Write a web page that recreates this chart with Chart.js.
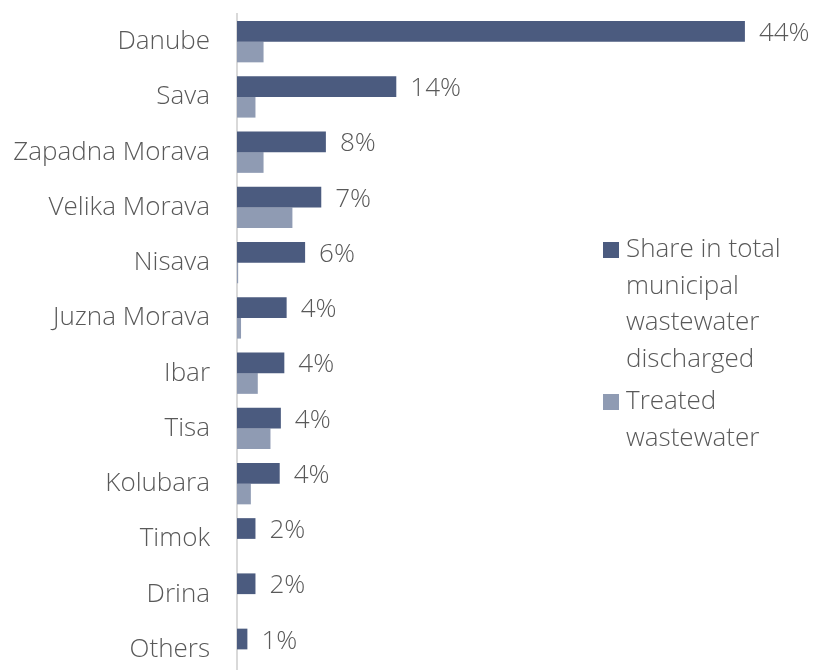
<!DOCTYPE html>
<html>
<head>
<meta charset="utf-8">
<script src="https://cdn.jsdelivr.net/npm/chart.js@4.4.0/dist/chart.umd.min.js"></script>
<style>
  html, body { margin: 0; padding: 0; background: #fff; overflow: hidden; }
  #wrap { position: relative; width: 813px; height: 677px; }
  #legend {
    position: absolute; left: 603px; top: 229px; width: 205px;
    font-family: 'Open Sans', sans-serif; font-weight: 300; font-size: 26px;
    line-height: 36.5px; color: #595959;
  }
  .item { position: relative; padding-left: 23px; margin-bottom: 6px; white-space: normal; }
  .box { position: absolute; left: 0; top: 13px; width: 16px; height: 16px; }
</style>
</head>
<body>
<div id="wrap">
  <canvas id="chart"></canvas>
  <div id="legend"></div>
</div>
<script>
// --- Data ---
const rivers = ['Danube', 'Sava', 'Zapadna Morava', 'Velika Morava', 'Nisava', 'Juzna Morava',
                'Ibar', 'Tisa', 'Kolubara', 'Timok', 'Drina', 'Others'];
const shareDischarged = [44, 13.8, 7.7, 7.3, 5.9, 4.3, 4.1, 3.8, 3.7, 1.6, 1.6, 0.9];
const shareTreated = [2.3, 1.6, 2.3, 4.8, 0.1, 0.35, 1.8, 2.9, 1.2, 0, 0, 0];
const seriesNames = ['Share in total municipal wastewater discharged', 'Treated wastewater'];
const seriesColors = ['#4b5b7f', '#8f9bb3'];

const textColor = '#595959';
const fontFamily = "'Open Sans', sans-serif";

// percent labels to the right of the dark bars
const valueLabels = {
    id: 'valueLabels',
    afterDatasetsDraw(chart) {
        const ctx = chart.ctx;
        const meta = chart.getDatasetMeta(0);
        ctx.save();
        ctx.font = '300 26px ' + fontFamily;
        ctx.fillStyle = textColor;
        ctx.textBaseline = 'alphabetic';
        ctx.textAlign = 'left';
        meta.data.forEach((bar, i) => {
            ctx.fillText(Math.round(shareDischarged[i]) + '%', bar.x + 14, bar.y + 9.5);
        });
        ctx.restore();
    }
};

const chart = new Chart(document.getElementById('chart'), {
    type: 'bar',
    data: {
        labels: rivers,
        datasets: [
            { label: seriesNames[0], data: shareDischarged, backgroundColor: seriesColors[0] },
            { label: seriesNames[1], data: shareTreated, backgroundColor: seriesColors[1] }
        ]
    },
    options: {
        indexAxis: 'y',
        responsive: true, maintainAspectRatio: false, animation: false,
        layout: { padding: { top: 14, right: 45, bottom: 0, left: 0 } },
        datasets: { bar: { categoryPercentage: 0.75, barPercentage: 1.0 } },
        plugins: { legend: { display: false }, tooltip: { enabled: false } },
        scales: {
            x: { min: 0, max: 46, display: false },
            y: {
                grid: { display: false, drawTicks: false },
                border: { color: '#d9d9d9', width: 2 },
                ticks: { color: textColor, padding: 27, font: { family: fontFamily, size: 26, weight: 300 } },
                afterFit(scale) {
                    // fixed axis position, no extra room for half labels
                    scale.width = 237;
                    scale.paddingTop = 0;
                    scale.paddingBottom = 0;
                }
            }
        }
    },
    plugins: [valueLabels]
});

// legend in html so the long name wraps
const legendBox = document.getElementById('legend');
seriesNames.forEach((name, i) => {
    const item = document.createElement('div');
    item.className = 'item';
    const box = document.createElement('span');
    box.className = 'box';
    box.style.background = seriesColors[i];
    item.appendChild(box);
    item.appendChild(document.createTextNode(name));
    legendBox.appendChild(item);
});
</script>
</body>
</html>
